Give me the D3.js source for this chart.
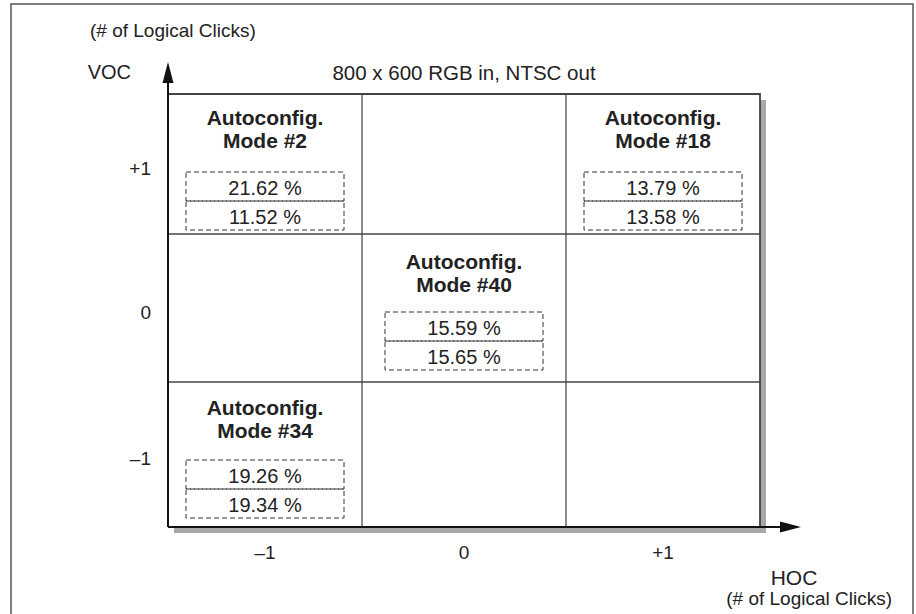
<!DOCTYPE html>
<html><head><meta charset="utf-8">
<script src="https://cdn.jsdelivr.net/npm/d3@7"></script>
<style>html,body{margin:0;padding:0;background:#fff;} svg{display:block;font-family:"Liberation Sans",Arial,Helvetica,sans-serif;}</style>
</head><body><svg id="c" width="916" height="614"></svg>
<script>
// ---- data ----
const xTickValues = [-1, 0, 1];
const xTickLabels = ["\u20131", "0", "+1"];
const yTickValues = [1, 0, -1];
const yTickLabels = ["+1", "0", "\u20131"];
const modeNames = ["#2", "#18", "#40", "#34"];
const modeHOC = [-1, 1, 0, -1];
const modeVOC = [1, 1, 0, -1];
const pctFirst = [21.62, 13.79, 15.59, 19.26];
const pctSecond = [11.52, 13.58, 15.65, 19.34];
const chartTitle = "800 x 600 RGB in, NTSC out";
const yAxisName = "VOC";
const xAxisName = "HOC";
const unitLabel = "(# of Logical Clicks)";

const svg = d3.select("#c");
const textCol = "#222";

// outer frame
svg.append("rect").attr("x", 11).attr("y", 4).attr("width", 902).attr("height", 640)
  .attr("fill", "none").attr("stroke", "#555").attr("stroke-width", 1.5);

const x = d3.scaleLinear().domain([-1.5, -0.5, 0.5, 1.5]).range([168, 362, 566, 760]);
const y = d3.scaleLinear().domain([1.5, 0.5, -0.5, -1.5]).range([94, 234, 382, 527]);

const x0 = x(-1.5), x1 = x(1.5), y0 = y(1.5), y1 = y(-1.5);

// shadow
svg.append("rect").attr("x", x0 + 6).attr("y", y0 + 6).attr("width", x1 - x0).attr("height", y1 - y0)
  .attr("fill", "#a8a8a8");
svg.append("rect").attr("x", x0).attr("y", y0).attr("width", x1 - x0).attr("height", y1 - y0)
  .attr("fill", "#fff");

// inner grid lines
const bounds = [-0.5, 0.5];
svg.selectAll(".vl").data(bounds).join("line")
  .attr("x1", d => x(d)).attr("x2", d => x(d)).attr("y1", y0).attr("y2", y1)
  .attr("stroke", "#666").attr("stroke-width", 1.5);
svg.selectAll(".hl").data(bounds).join("line")
  .attr("y1", d => y(d)).attr("y2", d => y(d)).attr("x1", x0).attr("x2", x1)
  .attr("stroke", "#444").attr("stroke-width", 1.5);
// top & right border
svg.append("path").attr("d", `M${x0},${y0}H${x1}V${y1}`).attr("fill", "none")
  .attr("stroke", "#444").attr("stroke-width", 1.8);

// axes with arrows
svg.append("line").attr("x1", x0).attr("x2", 782).attr("y1", y1).attr("y2", y1)
  .attr("stroke", "#111").attr("stroke-width", 2);
svg.append("path").attr("d", `M780,${y1 - 5.5}L801,${y1}L780,${y1 + 5.5}Z`).attr("fill", "#111");
svg.append("line").attr("x1", x0).attr("x2", x0).attr("y1", y1).attr("y2", 82)
  .attr("stroke", "#111").attr("stroke-width", 2);
svg.append("path").attr("d", `M${x0 - 5.5},83L${x0},62L${x0 + 5.5},83Z`).attr("fill", "#111");

// tick labels
svg.selectAll(".xt").data(xTickValues).join("text")
  .attr("x", d => x(d)).attr("y", 552).attr("text-anchor", "middle").attr("dominant-baseline", "central")
  .attr("font-size", 19).attr("fill", textCol).text((d, i) => xTickLabels[i]);
svg.selectAll(".yt").data(yTickValues).join("text")
  .attr("x", 151).attr("y", d => y(d) + 4).attr("text-anchor", "end").attr("dominant-baseline", "central")
  .attr("font-size", 19).attr("fill", textCol).text((d, i) => yTickLabels[i]);

// axis names
svg.append("text").attr("x", 90).attr("y", 30).attr("dominant-baseline", "central")
  .attr("font-size", 19).attr("fill", textCol).text(unitLabel);
svg.append("text").attr("x", 131).attr("y", 72).attr("text-anchor", "end").attr("dominant-baseline", "central")
  .attr("font-size", 20).attr("fill", textCol).text(yAxisName);
svg.append("text").attr("x", (x0 + x1) / 2).attr("y", 72).attr("text-anchor", "middle").attr("dominant-baseline", "central")
  .attr("font-size", 20.5).attr("fill", textCol).text(chartTitle);
svg.append("text").attr("x", 794).attr("y", 577).attr("text-anchor", "middle").attr("dominant-baseline", "central")
  .attr("font-size", 21).attr("fill", textCol).text(xAxisName);
svg.append("text").attr("x", 892).attr("y", 598).attr("text-anchor", "end").attr("dominant-baseline", "central")
  .attr("font-size", 19).attr("fill", textCol).text(unitLabel);

// mode cells
const boxW = 158, rowH = 29;
modeNames.forEach((m, i) => {
  const cx = x(modeHOC[i]);
  const cy = y(modeVOC[i]);
  const top = y(modeVOC[i] + 0.5);
  const g = svg.append("g");
  g.append("text").attr("x", cx).attr("y", cy - 47).attr("text-anchor", "middle").attr("dominant-baseline", "central")
    .attr("font-size", 21).attr("font-weight", "bold").attr("fill", textCol).text("Autoconfig.");
  g.append("text").attr("x", cx).attr("y", cy - 24).attr("text-anchor", "middle").attr("dominant-baseline", "central")
    .attr("font-size", 21).attr("font-weight", "bold").attr("fill", textCol).text("Mode " + m);
  const bt = top + 78;
  [pctFirst[i], pctSecond[i]].forEach((v, k) => {
    g.append("rect").attr("x", cx - boxW / 2).attr("y", bt + k * rowH).attr("width", boxW).attr("height", rowH)
      .attr("fill", "none").attr("stroke", "#333").attr("stroke-width", 1).attr("stroke-dasharray", "5,3");
    g.append("text").attr("x", cx).attr("y", bt + k * rowH + rowH / 2 + 1).attr("text-anchor", "middle")
      .attr("dominant-baseline", "central").attr("font-size", 20).attr("fill", textCol)
      .text(v.toFixed(2) + " %");
  });
});
</script></body></html>
